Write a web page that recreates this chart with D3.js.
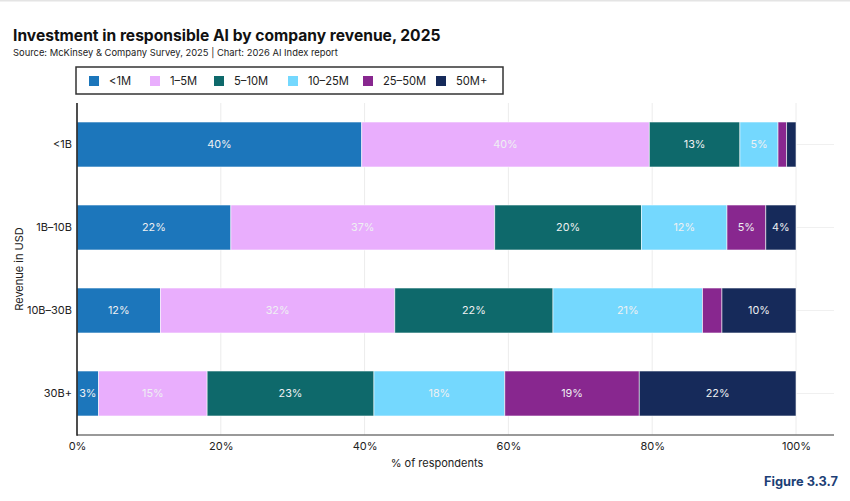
<!DOCTYPE html>
<html>
<head>
<meta charset="utf-8">
<script src="https://cdn.jsdelivr.net/npm/d3@7"></script>
<style>
  html, body { margin: 0; padding: 0; background: #fff; }
  svg { display: block; font-family: Inter, "Noto Sans", sans-serif; }
</style>
</head>
<body>
<svg id="chart" width="850" height="501"></svg>
<script>
const categories = ["<1B", "1B–10B", "10B–30B", "30B+"];
const seriesNames = ["<1M", "1–5M", "5–10M", "10–25M", "25–50M", "50M+"];
const seriesColors = ["#1c76bb", "#e9aefd", "#0e696b", "#74d8fe", "#88278f", "#162a5a"];
const values = {
  "<1M":    [39.6, 21.4, 11.6, 3.0],
  "1–5M":   [40.0, 36.7, 32.6, 15.1],
  "5–10M":  [12.6, 20.4, 22.0, 23.2],
  "10–25M": [5.3, 11.9, 20.8, 18.2],
  "25–50M": [1.2, 5.4, 2.7, 18.7],
  "50M+":   [1.3, 4.2, 10.3, 21.8]
};
const labels = {
  "<1M":    ["40%", "22%", "12%", "3%"],
  "1–5M":   ["40%", "37%", "32%", "15%"],
  "5–10M":  ["13%", "20%", "22%", "23%"],
  "10–25M": ["5%", "12%", "21%", "18%"],
  "25–50M": ["", "5%", "", "19%"],
  "50M+":   ["", "4%", "10%", "22%"]
};
const xTicks = [0, 20, 40, 60, 80, 100];

const svg = d3.select("#chart");
const pLeft = 77, pRight = 796, pTop = 103, pBottom = 435;

const x = d3.scaleLinear().domain([0, 100]).range([pLeft, pRight]);
const y = d3.scaleBand().domain(categories).range([pTop, pBottom]).paddingInner(0.458).paddingOuter(0.229);

// top faint border
svg.append("rect").attr("x", 0).attr("y", 0).attr("width", 850).attr("height", 1.5).attr("fill", "#e4e4e4");

// title
svg.append("text").attr("x", 13).attr("y", 41).attr("font-size", 15.6).attr("font-weight", 700)
  .attr("fill", "#111").text("Investment in responsible AI by company revenue, 2025");
svg.append("text").attr("x", 13).attr("y", 56).attr("font-size", 9.4).attr("fill", "#222")
  .text("Source: McKinsey & Company Survey, 2025 | Chart: 2026 AI Index report");

// legend
const lg = svg.append("g");
lg.append("rect").attr("x", 76).attr("y", 67).attr("width", 427).attr("height", 27)
  .attr("fill", "#fff").attr("stroke", "#333").attr("stroke-width", 1.5);
const legendSwatchX = [89, 150, 214, 288, 363, 436];
seriesNames.forEach((s, i) => {
  lg.append("rect").attr("x", legendSwatchX[i]).attr("y", 76).attr("width", 10).attr("height", 10)
    .attr("fill", seriesColors[i]);
  lg.append("text").attr("x", legendSwatchX[i] + 20).attr("y", 85).attr("font-size", 11.2)
    .attr("fill", "#222").text(s);
});

// grid lines
const grid = svg.append("g");
xTicks.filter(t => t > 0).forEach(t => {
  grid.append("line").attr("x1", x(t)).attr("x2", x(t)).attr("y1", pTop).attr("y2", pBottom)
    .attr("stroke", "#ececec").attr("stroke-width", 1);
});
categories.forEach(c => {
  const cy = y(c) + y.bandwidth() / 2;
  grid.append("line").attr("x1", pLeft).attr("x2", 834).attr("y1", cy).attr("y2", cy)
    .attr("stroke", "#f0f0f0").attr("stroke-width", 1);
});

// stacked bars
const rows = categories.map((c, ci) => {
  const r = { cat: c };
  seriesNames.forEach(s => r[s] = values[s][ci]);
  return r;
});
const stack = d3.stack().keys(seriesNames)(rows);
const barG = svg.append("g");
stack.forEach((layer, si) => {
  layer.forEach((d, ci) => {
    barG.append("rect")
      .attr("x", x(d[0])).attr("y", y(categories[ci]))
      .attr("width", x(d[1]) - x(d[0])).attr("height", y.bandwidth())
      .attr("fill", seriesColors[si]).attr("stroke", "#fff").attr("stroke-opacity", 0.7).attr("stroke-width", 0.8);
    const lab = labels[seriesNames[si]][ci];
    if (lab) {
      barG.append("text")
        .attr("x", (x(d[0]) + x(d[1])) / 2).attr("y", y(categories[ci]) + y.bandwidth() / 2)
        .attr("dy", "0.35em").attr("text-anchor", "middle").attr("font-size", 10.8)
        .attr("fill", "#eef0f2").text(lab);
    }
  });
});

// axes
const xAxis = svg.append("g").attr("transform", `translate(0,${pBottom})`)
  .call(d3.axisBottom(x).tickValues(xTicks).tickFormat(d => d + "%").tickSize(0).tickPadding(7));
xAxis.select(".domain").remove();
xAxis.selectAll("text").attr("font-size", 11).attr("fill", "#222").attr("font-family", "Inter, sans-serif");
svg.append("line").attr("x1", pLeft).attr("x2", 834).attr("y1", pBottom).attr("y2", pBottom)
  .attr("stroke", "#777").attr("stroke-width", 1.6);

const yAxis = svg.append("g").attr("transform", `translate(${pLeft},0)`)
  .call(d3.axisLeft(y).tickSize(0).tickPadding(5));
yAxis.select(".domain").remove();
yAxis.selectAll("text").attr("font-size", 11).attr("fill", "#222").attr("font-family", "Inter, sans-serif");
svg.append("line").attr("x1", pLeft).attr("x2", pLeft).attr("y1", pTop).attr("y2", pBottom + 0.8)
  .attr("stroke", "#222").attr("stroke-width", 1.6);

// axis titles
svg.append("text").attr("x", 437).attr("y", 467).attr("text-anchor", "middle").attr("font-size", 11)
  .attr("fill", "#222").text("% of respondents");
svg.append("text").attr("transform", `translate(23,${(pTop + pBottom) / 2}) rotate(-90)`)
  .attr("text-anchor", "middle").attr("font-size", 11).attr("fill", "#222").text("Revenue in USD");

// figure label
svg.append("text").attr("x", 838).attr("y", 486).attr("text-anchor", "end").attr("font-size", 12.8)
  .attr("font-weight", 700).attr("fill", "#1d3f76").text("Figure 3.3.7");
</script>
</body>
</html>
